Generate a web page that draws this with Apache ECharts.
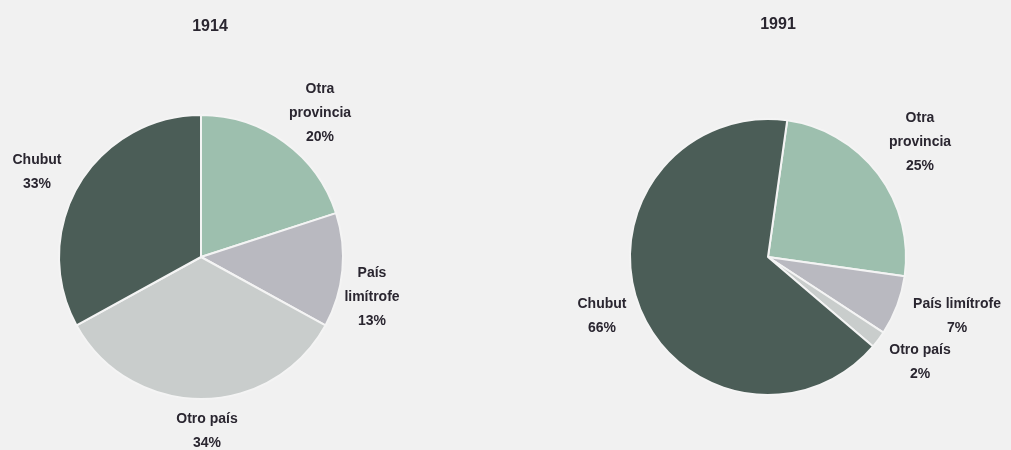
<!DOCTYPE html>
<html>
<head>
<meta charset="utf-8">
<script src="https://cdn.jsdelivr.net/npm/echarts@6/dist/echarts.min.js"></script>
<style>
html,body{margin:0;padding:0;background:#f1f1f1;}
#c{width:1011px;height:450px;}
</style>
</head>
<body>
<div id="c"></div>
<script>
// Data
var categories = ['Otra provincia', 'País limítrofe', 'Otro país', 'Chubut'];
var labels1914 = ['Otra\nprovincia', 'País\nlimítrofe', 'Otro país', 'Chubut'];
var labels1991 = ['Otra\nprovincia', 'País limítrofe', 'Otro país', 'Chubut'];
var values1914 = [20, 13, 34, 33];
var values1991 = [25, 7, 2, 66];
var years = ['1914', '1991'];

// Layout / style
var colors = ['#9dbfae', '#b9b9c0', '#c9cdcc', '#4b5d57'];
var labelPos1914 = [[320, 113], [372, 297], [207, 431], [37, 172]];
var labelPos1991 = [[920, 142], [957, 316], [920, 362], [602, 316]];

function mkData(vals, lbls) {
  return vals.map(function (v, i) {
    return { name: categories[i], value: v, itemStyle: { color: colors[i] } };
  });
}

var labelStyle = {
  show: true,
  position: 'outside',
  color: '#2a2630',
  fontFamily: 'Liberation Sans, Arial, sans-serif',
  fontWeight: 'bold',
  fontSize: 14,
  lineHeight: 24,
  align: 'center'
};
var titleStyle = { fontFamily: 'Liberation Sans, Arial, sans-serif', fontWeight: 'bold', fontSize: 16, color: '#2a2630' };

var chart = echarts.init(document.getElementById('c'));
chart.setOption({
  backgroundColor: '#f1f1f1',
  animation: false,
  title: [
    { text: years[0], left: 205, top: 14, textAlign: 'center', textStyle: titleStyle },
    { text: years[1], left: 773, top: 12, textAlign: 'center', textStyle: titleStyle }
  ],
  series: [
    {
      type: 'pie',
      center: [201, 257],
      radius: [0, 142],
      startAngle: 90,
      clockwise: true,
      avoidLabelOverlap: false,
      itemStyle: { borderColor: '#f4f4f4', borderWidth: 2 },
      label: Object.assign({}, labelStyle, {
        formatter: function (p) { return labels1914[p.dataIndex] + '\n' + p.value + '%'; }
      }),
      labelLine: { show: false },
      labelLayout: function (p) {
        var pos = labelPos1914[p.dataIndex];
        return { x: pos[0], y: pos[1], align: 'center', verticalAlign: 'middle' };
      },
      emphasis: { disabled: true },
      data: mkData(values1914, labels1914)
    },
    {
      type: 'pie',
      center: [768, 257],
      radius: [0, 138],
      startAngle: 82,
      clockwise: true,
      avoidLabelOverlap: false,
      itemStyle: { borderColor: '#f4f4f4', borderWidth: 2 },
      label: Object.assign({}, labelStyle, {
        formatter: function (p) { return labels1991[p.dataIndex] + '\n' + p.value + '%'; }
      }),
      labelLine: { show: false },
      labelLayout: function (p) {
        var pos = labelPos1991[p.dataIndex];
        return { x: pos[0], y: pos[1], align: 'center', verticalAlign: 'middle' };
      },
      emphasis: { disabled: true },
      data: mkData(values1991, labels1991)
    }
  ]
});
</script>
</body>
</html>
